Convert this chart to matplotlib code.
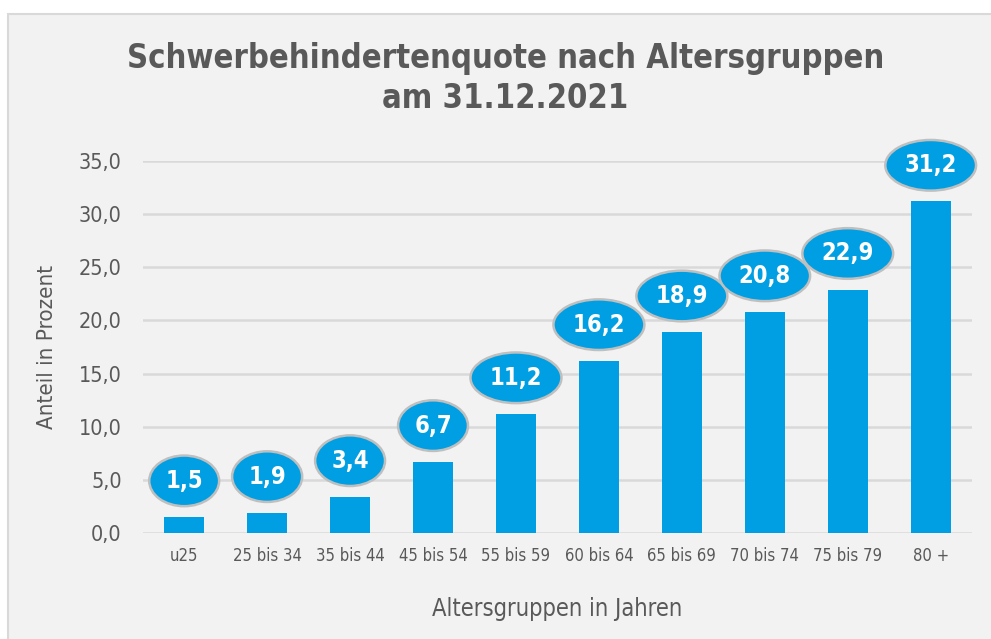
import matplotlib.pyplot as plt
import matplotlib.patches as mpatches

# Data
groups = ["u25", "25 bis 34", "35 bis 44", "45 bis 54", "55 bis 59",
          "60 bis 64", "65 bis 69", "70 bis 74", "75 bis 79", "80 +"]
quote = [1.5, 1.9, 3.4, 6.7, 11.2, 16.2, 18.9, 20.8, 22.9, 31.2]
yticks = [0, 5, 10, 15, 20, 25, 30, 35]

blue = "#009fe3"
grey_text = "#595959"

plt.rcParams["font.family"] = ["DejaVu Sans"]
plt.rcParams["font.stretch"] = "condensed"

fig = plt.figure(figsize=(9.91, 6.39), dpi=100)
fig.patch.set_facecolor("white")
# grey panel behind the chart
panel = mpatches.Rectangle((8 / 991, -0.01), 1, 1 - 14 / 639 + 0.01, transform=fig.transFigure,
                           facecolor="#f2f2f2", edgecolor="#d9d9d9", linewidth=1.5, zorder=-10)
fig.patches.append(panel)

ax = fig.add_axes([0.144, 0.166, 0.837, 0.582])
ax.set_facecolor("none")

x = range(len(groups))
ax.bar(x, quote, width=0.48, color=blue, zorder=3)

# ellipse labels above the bars
for i, v in zip(x, quote):
    ax.annotate(f"{v:.1f}".replace(".", ","), xy=(i, v), xytext=(0, 26), textcoords="offset points",
                ha="center", va="center", color="white", fontsize=17, fontweight="bold", zorder=5,
                annotation_clip=False,
                bbox=dict(boxstyle="ellipse,pad=0.25", facecolor=blue, edgecolor="#bfbfbf", linewidth=1.8))

ax.set_xlim(-0.5, len(groups) - 0.5)
ax.set_ylim(0, 35)
ax.set_yticks(yticks)
ax.set_yticklabels([f"{t:.1f}".replace(".", ",") for t in yticks])
ax.set_xticks(list(x))
ax.set_xticklabels(groups)
ax.yaxis.grid(True, color="#d9d9d9", linewidth=1.8, zorder=0)
ax.tick_params(axis="both", length=0, colors=grey_text)
ax.tick_params(axis="y", labelsize=15.5, pad=15)
ax.tick_params(axis="x", labelsize=12, pad=10)
for s in ax.spines.values():
    s.set_visible(False)

ax.set_ylabel("Anteil in Prozent", fontsize=16, color=grey_text, labelpad=16)
ax.set_xlabel("Altersgruppen in Jahren", fontsize=17, color=grey_text, labelpad=23)

fig.text(0.51, 0.877, "Schwerbehindertenquote nach Altersgruppen\nam 31.12.2021", ha="center",
         va="center", fontsize=23.5, fontweight="bold", color=grey_text, linespacing=1.25)

fig.savefig("out.png", dpi=100)
